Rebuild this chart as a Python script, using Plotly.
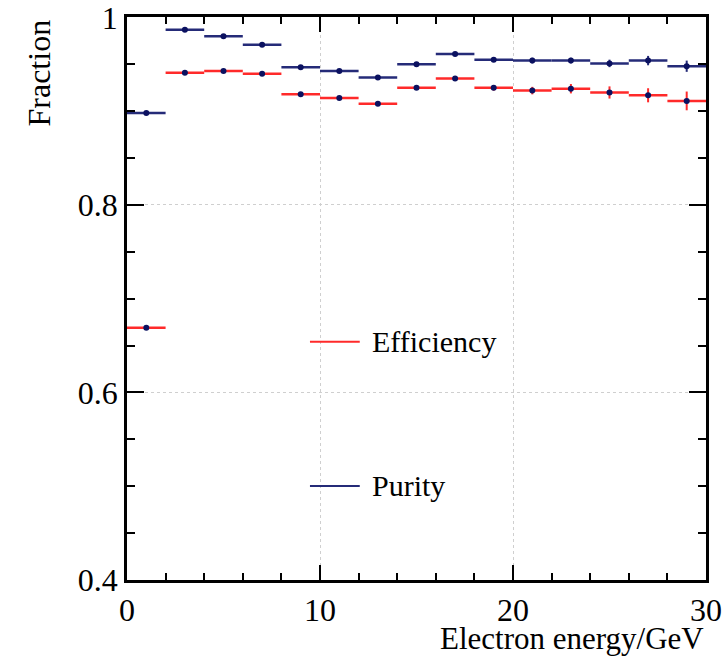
import plotly.graph_objects as go

# Data (bin centers, bin half-width 1 GeV)
energy = [1, 3, 5, 7, 9, 11, 13, 15, 17, 19, 21, 23, 25, 27, 29]
bin_half = [1] * 15
efficiency = [0.669, 0.941, 0.943, 0.940, 0.918, 0.914, 0.908, 0.925, 0.935,
              0.925, 0.922, 0.924, 0.920, 0.917, 0.911]
eff_err = [0.001, 0.001, 0.001, 0.001, 0.0015, 0.0015, 0.0015, 0.002, 0.002,
           0.003, 0.004, 0.005, 0.0065, 0.0075, 0.010]
purity = [0.898, 0.987, 0.980, 0.971, 0.947, 0.943, 0.936, 0.950, 0.961,
          0.955, 0.954, 0.954, 0.951, 0.954, 0.948]
pur_err = [0.001, 0.001, 0.001, 0.001, 0.001, 0.001, 0.001, 0.0015, 0.002,
           0.002, 0.003, 0.003, 0.004, 0.005, 0.006]

x_ticks = [0, 10, 20, 30]
x_ticklabels = ["0", "10", "20", "30"]
y_ticks = [0.4, 0.6, 0.8, 1.0]
y_ticklabels = ["0.4", "0.6", "0.8", "1"]

RED = "#ff2a2a"
NAVY = "#252b78"
MARK = "#0b1160"
FONT = "Liberation Serif"

fig = go.Figure()
fig.add_trace(go.Scatter(
    x=energy, y=efficiency, mode="markers", name="Efficiency",
    marker=dict(color=MARK, size=6),
    error_x=dict(type="data", array=bin_half, color=RED, thickness=2.5, width=0),
    error_y=dict(type="data", array=eff_err, color=RED, thickness=2, width=0),
    showlegend=False))
fig.add_trace(go.Scatter(
    x=energy, y=purity, mode="markers", name="Purity",
    marker=dict(color=MARK, size=6),
    error_x=dict(type="data", array=bin_half, color=NAVY, thickness=2.5, width=0),
    error_y=dict(type="data", array=pur_err, color=NAVY, thickness=2, width=0),
    showlegend=False))

# Legend drawn manually (line sample + text)
legend_items = [("Efficiency", RED, 0.423), ("Purity", NAVY, 0.167)]
for label, col, yy in legend_items:
    fig.add_shape(type="line", xref="paper", yref="paper",
                  x0=0.316, x1=0.402, y0=yy, y1=yy,
                  line=dict(color=col, width=2))
    fig.add_annotation(text=label, xref="paper", yref="paper",
                       x=0.42, y=yy, xanchor="left", yanchor="middle",
                       showarrow=False, font=dict(family=FONT, size=30, color="black"))

fig.add_annotation(text="Electron energy/GeV", xref="paper", yref="paper",
                   x=1.0, y=-0.07, xanchor="right", yanchor="top",
                   showarrow=False, font=dict(family=FONT, size=31, color="black"))
fig.add_annotation(text="Fraction", xref="paper", yref="paper",
                   x=-0.152, y=1.0, xanchor="center", yanchor="top", textangle=-90,
                   showarrow=False, font=dict(family=FONT, size=32, color="black"))

axis_common = dict(
    showline=True, linecolor="black", linewidth=2.5, mirror="allticks",
    ticks="inside", tickcolor="black", tickwidth=2, automargin=False,
    ticklabeloverflow="allow",
    showgrid=True, gridcolor="#cfcfcf", griddash="dot", gridwidth=1,
    zeroline=False, tickfont=dict(family=FONT, size=32, color="black"),
)
fig.update_xaxes(**axis_common, range=[0, 30], tickvals=x_ticks, ticktext=x_ticklabels,
                 ticklen=15,
                 minor=dict(dtick=2, ticks="inside", ticklen=7, tickcolor="black",
                            tickwidth=2, showgrid=False))
fig.update_yaxes(**axis_common, range=[0.4, 1.0005], tickvals=y_ticks, ticktext=y_ticklabels,
                 ticklen=17,
                 minor=dict(dtick=0.05, tick0=0.4, ticks="inside", ticklen=8,
                            tickcolor="black", tickwidth=2, showgrid=False))

fig.update_layout(
    width=726, height=658,
    margin=dict(l=127, r=20, t=17, b=78),
    plot_bgcolor="white", paper_bgcolor="white",
    showlegend=False,
)

fig.write_html("out.html")
